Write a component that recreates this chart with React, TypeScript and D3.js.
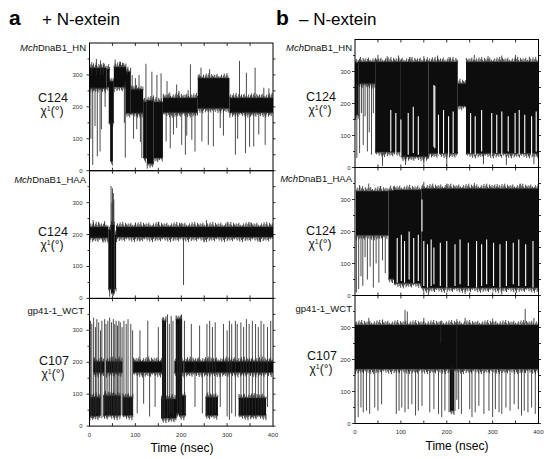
import React from "react";
import * as d3 from "d3";

type Block = [number, number, number, number];
type Spike = [number, number, number];

const X_TICKS = [0, 100, 200, 300, 400];
const Y_TICKS = [0, 100, 200, 300];
const MINOR_STEP = 50;

// ---- a, top: MchDnaB1_HN (+ N-extein) ----
const A1_BLOCKS: Block[] = [
  [0, 37, 258, 322], [37, 44, 262, 318], [42, 53, 150, 280], [45, 51, 30, 150],
  [53, 80, 262, 325], [79, 90, 180, 310], [90, 117, 180, 255], [117, 125, 40, 215],
  [125, 140, 22, 220], [140, 160, 40, 215], [160, 236, 182, 228], [236, 305, 195, 290],
  [305, 400, 182, 228],
];
const A1_SPIKES: Spike[] = [
  [3, 100, 262], [5, 300, 340], [7, 18, 262], [12, 140, 262], [15, 300, 350], [17, 45, 262],
  [23, 60, 262], [24, 300, 345], [26, 130, 262], [30, 300, 338], [34, 200, 262],
  [56, 320, 348], [66, 320, 342], [72, 320, 338], [76, 150, 270], [78, 41, 280],
  [82, 300, 320], [93, 250, 300], [96, 100, 185], [100, 250, 290], [103, 130, 185],
  [108, 250, 300], [111, 90, 185], [114, 40, 185], [123, 215, 335], [136, 215, 310],
  [147, 215, 300], [156, 215, 305], [167, 92, 185], [169, 228, 281], [176, 70, 185],
  [175, 228, 245], [183, 113, 185], [190, 134, 185], [190, 228, 270], [195, 228, 250],
  [201, 81, 185], [209, 50, 185], [212, 110, 185], [215, 228, 252], [220, 228, 333],
  [223, 97, 185], [230, 60, 185], [240, 290, 297], [243, 290, 323], [245, 92, 200],
  [259, 81, 200], [262, 290, 318], [270, 76, 200], [285, 134, 200], [292, 110, 200],
  [318, 50, 185], [323, 100, 185], [327, 228, 344], [340, 55, 185], [342, 228, 307],
  [349, 75, 185], [358, 76, 185], [361, 228, 323], [369, 113, 185], [380, 228, 260],
  [383, 81, 185], [391, 228, 258],
];

// ---- a, middle: MchDnaB1_HAA ----
const A2_BLOCKS: Block[] = [
  [0, 41, 190, 224], [41, 47, 30, 215], [47, 55, 18, 230], [55, 58, 30, 200], [58, 400, 192, 224],
];
const A2_SPIKES: Spike[] = [
  [47, 230, 352], [49, 230, 300], [50, 230, 345], [52, 230, 330], [53, 230, 310],
  [44, 5, 30], [52, 8, 30], [8, 226, 245], [20, 226, 240], [33, 226, 242],
  [100, 226, 238], [150, 226, 240], [200, 226, 237], [255, 226, 245], [300, 226, 240],
  [350, 226, 238], [30, 175, 190], [110, 178, 190], [250, 176, 190], [370, 178, 190],
  [205, 42, 190],
];

// ---- a, bottom: gp41-1_WCT ----
const A3_BLOCKS: Block[] = [
  [0, 24, 32, 90], [30, 68, 34, 95], [72, 95, 34, 90], [8, 32, 168, 202],
  [36, 60, 168, 202], [60, 72, 168, 202], [95, 158, 168, 202], [156, 190, 25, 85],
  [158, 167, 40, 330], [185, 205, 168, 202], [188, 202, 40, 335], [195, 210, 34, 95],
  [205, 400, 168, 202], [253, 280, 34, 90], [325, 385, 34, 88],
];
const A3_SPIKES: Spike[] = [
  [2, 30, 330], [5, 25, 320], [9, 35, 340], [13, 30, 310], [16, 40, 335], [20, 30, 325],
  [24, 35, 300], [27, 25, 330], [33, 30, 335], [36, 40, 320], [40, 30, 330], [44, 35, 340],
  [48, 30, 325], [52, 40, 335], [55, 30, 320], [58, 35, 330], [61, 30, 315], [64, 40, 330],
  [67, 30, 325], [71, 35, 310], [75, 30, 330], [80, 40, 320], [84, 30, 335], [90, 35, 320],
  [94, 40, 300], [104, 40, 170], [110, 200, 300], [118, 70, 170], [127, 200, 330],
  [131, 30, 170], [143, 60, 170], [150, 200, 310], [160, 20, 340], [163, 30, 330],
  [170, 25, 350], [174, 30, 320], [178, 40, 345], [182, 30, 330], [192, 30, 320],
  [197, 40, 340], [200, 30, 350], [207, 40, 330], [222, 200, 320], [230, 60, 200],
  [240, 200, 315], [246, 40, 170], [256, 30, 320], [262, 40, 330], [268, 30, 310],
  [274, 40, 325], [285, 60, 170], [292, 200, 320], [300, 30, 300], [305, 20, 330],
  [310, 40, 320], [318, 30, 330], [322, 200, 320], [330, 30, 325], [336, 40, 310],
  [342, 30, 335], [348, 40, 320], [355, 30, 330], [362, 30, 320], [368, 40, 310],
  [374, 30, 330], [380, 40, 320], [388, 60, 310], [395, 200, 330],
];

// ---- b, top: MchDnaB1_HN (– N-extein) ----
const B1_BLOCKS: Block[] = [
  [0, 7, 165, 328], [7, 44, 262, 330], [44, 100, 48, 330], [100, 160, 34, 330],
  [160, 224, 44, 330], [224, 242, 192, 262], [242, 400, 44, 330],
];
const B1_SPIKES: Spike[] = [
  [1, 150, 262], [4, 30, 262], [8, 160, 262], [10, 45, 262], [14, 170, 262], [18, 70, 262],
  [22, 160, 262], [27, 50, 262], [31, 110, 262], [36, 40, 262], [40, 170, 262],
  [50, 330, 352], [70, 330, 348], [95, 330, 350], [120, 330, 345], [150, 330, 348],
  [180, 330, 350], [205, 330, 345], [260, 330, 352], [290, 330, 348], [320, 330, 350],
  [350, 330, 352], [380, 330, 346], [60, 5, 45], [110, 8, 40], [150, 10, 40],
  [200, 5, 40], [280, 10, 40], [330, 8, 40], [390, 10, 40],
];
const B1_GAPS: Spike[] = [
  [78, 50, 180], [89, 45, 170], [100, 35, 150], [116, 40, 170], [127, 45, 190],
  [138, 40, 160], [172, 65, 258], [174, 60, 255], [182, 40, 165], [193, 45, 180],
  [204, 40, 160], [214, 45, 175], [252, 45, 170], [262, 40, 160], [276, 50, 180],
  [298, 40, 170], [309, 45, 165], [320, 40, 175], [334, 50, 160], [349, 45, 170],
  [358, 40, 180], [370, 45, 165], [385, 40, 160], [395, 50, 175],
];

// ---- b, middle: MchDnaB1_HAA ----
const B2_BLOCKS: Block[] = [
  [2, 73, 188, 326], [73, 85, 52, 328], [85, 145, 38, 330], [145, 400, 24, 334],
];
const B2_SPIKES: Spike[] = [
  [10, 330, 345], [30, 330, 350], [55, 330, 342], [3, 10, 185], [8, 20, 185], [13, 60, 185],
  [17, 30, 185], [22, 120, 185], [27, 50, 185], [33, 90, 185], [40, 25, 185], [46, 100, 185],
  [52, 40, 185], [60, 110, 185], [66, 70, 185], [160, 2, 25], [240, 5, 25], [320, 3, 25],
  [150, 335, 355], [200, 335, 350], [260, 335, 352], [310, 335, 348], [360, 335, 350],
];
const B2_GAPS: Spike[] = [
  [92, 40, 180], [101, 45, 190], [108, 40, 170], [118, 50, 200], [128, 40, 180],
  [138, 45, 190], [146, 200, 300], [150, 30, 170], [158, 25, 160], [166, 30, 175],
  [172, 35, 150], [186, 30, 165], [200, 25, 170], [218, 30, 160], [229, 35, 175],
  [247, 30, 165], [265, 25, 170], [276, 30, 160], [287, 35, 175], [302, 30, 165],
  [316, 25, 160], [330, 30, 170], [345, 35, 165], [357, 30, 175], [372, 30, 160],
  [388, 25, 170],
];

// ---- b, bottom: gp41-1_WCT ----
const B3_BLOCKS: Block[] = [[0, 400, 170, 308], [207, 216, 40, 168]];
const B3_SPIKES: Spike[] = [
  [30, 312, 330], [60, 312, 325], [109, 312, 355], [114, 312, 350], [150, 312, 330],
  [187, 252, 321], [222, 74, 326], [240, 312, 330], [300, 312, 328], [371, 312, 358],
  [390, 312, 330], [7, 20, 168], [13, 50, 168], [18, 35, 168], [25, 40, 168], [32, 30, 168],
  [43, 50, 168], [50, 40, 168], [58, 60, 168], [90, 30, 168], [96, 40, 168], [102, 50, 168],
  [109, 35, 168], [116, 45, 168], [124, 60, 168], [132, 25, 168], [138, 40, 168],
  [146, 55, 168], [163, 35, 168], [172, 45, 168], [182, 30, 168], [189, 20, 168],
  [196, 40, 168], [205, 35, 168], [212, 50, 168], [218, 40, 168], [226, 45, 168],
  [232, 30, 168], [250, 45, 168], [255, 20, 168], [262, 35, 168], [270, 55, 168],
  [281, 30, 168], [292, 40, 168], [300, 20, 168], [306, 45, 168], [314, 35, 168],
  [320, 30, 168], [329, 50, 168], [338, 40, 168], [347, 60, 168], [356, 45, 168],
  [363, 25, 168], [369, 40, 168], [377, 35, 168], [385, 50, 168], [393, 30, 168],
];

const FONT = "Liberation Sans, Arial, Helvetica, sans-serif";
// visual fuzz drawn along band edges (pixels) – a line-style texture, not data
const FUZZ_PX = [1.5, 3.5, 0.5, 2.5, 4.5, 1, 3, 5, 2, 0.5, 4, 2.5, 1.5, 3.5, 0.8, 2.8, 4.2, 1.2, 2.2, 0.6];

interface PanelProps {
  id: string;
  x: number;
  y: number;
  w: number;
  h: number;
  blocks: Block[];
  spikes: Spike[];
  gaps?: Spike[];
  xLabels: boolean;
  labelGap: number;
}

function fuzzPath(x0: number, x1: number, yTop: number, yBot: number, seed: number): string {
  let d = "";
  let k = seed;
  for (let px = x0 + 0.4; px < x1; px += 0.9) {
    const up = FUZZ_PX[k % FUZZ_PX.length];
    const dn = FUZZ_PX[(k + 7) % FUZZ_PX.length];
    d += `M${px.toFixed(2)},${(yTop - up).toFixed(2)}V${(yTop + 1).toFixed(2)}`;
    d += `M${px.toFixed(2)},${(yBot - 1).toFixed(2)}V${(yBot + dn).toFixed(2)}`;
    k++;
  }
  return d;
}

function Panel({ id, x, y, w, h, blocks, spikes, gaps = [], xLabels, labelGap }: PanelProps) {
  const xs = d3.scaleLinear().domain([0, 400]).range([x, x + w]);
  const ys = d3.scaleLinear().domain([0, 400]).range([y + h, y]);
  const minor = d3.range(0, 401, MINOR_STEP);
  return (
    <g>
      <defs>
        <clipPath id={id}>
          <rect x={x} y={y} width={w} height={h} />
        </clipPath>
      </defs>
      <g clipPath={`url(#${id})`}>
        {blocks.map((b, i) => (
          <rect key={"b" + i} x={xs(b[0])} width={xs(b[1]) - xs(b[0])} y={ys(b[3])} height={ys(b[2]) - ys(b[3])} fill="#0d0d0d" />
        ))}
        {blocks.map((b, i) => (
          <path key={"f" + i} d={fuzzPath(xs(b[0]), xs(b[1]), ys(b[3]), ys(b[2]), i * 5)} stroke="#1a1a1a" strokeWidth={0.8} fill="none" />
        ))}
        {gaps.map((s, i) => (
          <line key={"g" + i} x1={xs(s[0])} x2={xs(s[0])} y1={ys(s[1])} y2={ys(s[2])} stroke="#fff" strokeWidth={1.1} />
        ))}
        {spikes.map((s, i) => (
          <line key={"s" + i} x1={xs(s[0])} x2={xs(s[0])} y1={ys(s[1])} y2={ys(s[2])} stroke="#2a2a2a" strokeWidth={0.85} />
        ))}
      </g>
      <rect x={x} y={y} width={w} height={h} fill="none" stroke="#000" strokeWidth={1} />
      {minor.filter((t) => t > 0 && t < 400).map((t) => (
        <g key={"xt" + t}>
          <line x1={xs(t)} x2={xs(t)} y1={y + h} y2={y + h - 3} stroke="#000" strokeWidth={0.8} />
          <line x1={xs(t)} x2={xs(t)} y1={y} y2={y + 3} stroke="#000" strokeWidth={0.8} />
        </g>
      ))}
      {minor.filter((v) => v < 400).map((v) => (
        <g key={"yt" + v}>
          <line x1={x} x2={x - (v % 100 === 0 ? 3 : 2)} y1={ys(v)} y2={ys(v)} stroke="#000" strokeWidth={0.8} />
          <line x1={x + w} x2={x + w + 2.5} y1={ys(v)} y2={ys(v)} stroke="#000" strokeWidth={0.8} />
        </g>
      ))}
      {Y_TICKS.map((v) => (
        <text key={"yl" + v} x={x - labelGap} y={ys(v) + 2} fontSize={6} fill="#333" textAnchor="end" fontFamily={FONT}>
          {v}
        </text>
      ))}
      {xLabels &&
        X_TICKS.map((t) => (
          <text key={"xl" + t} x={xs(t)} y={y + h + 10.5} fontSize={6.2} fill="#333" textAnchor="middle" fontFamily={FONT}>
            {t}
          </text>
        ))}
    </g>
  );
}

function AxisLabel({ x, y, residue }: { x: number; y: number; residue: string }) {
  return (
    <text fontFamily={FONT} textAnchor="middle" fill="#111">
      <tspan x={x} y={y} fontSize={12.5}>{residue}</tspan>
      <tspan x={x - 1} y={y + 12.5} fontSize={12}>χ</tspan>
      <tspan fontSize={7} dy={-4}>1</tspan>
      <tspan fontSize={12} dy={4}>(°)</tspan>
    </text>
  );
}

function Name({ x, y, italic, rest }: { x: number; y: number; italic: string; rest: string }) {
  return (
    <text x={x} y={y} fontSize={9.5} fontFamily={FONT} textAnchor="end" fill="#111">
      {italic && <tspan fontStyle="italic">{italic}</tspan>}
      {rest}
    </text>
  );
}

export default function App() {
  const L = { x: 89.5, w: 183.5, top: 43, h: 127.7 };
  const R = { x: 355, w: 183.5, top: 39.5, h: 128 };
  return (
    <svg width={550} height={459} style={{ position: "absolute", left: 0, top: 0, background: "#fff" }}>
      <rect width={550} height={459} fill="#fff" />
      <text x={9} y={25} fontSize={21} fontWeight="bold" fontFamily={FONT}>a</text>
      <text x={42} y={25} fontSize={17} fontFamily={FONT}>+ N-extein</text>
      <text x={276} y={25} fontSize={21} fontWeight="bold" fontFamily={FONT}>b</text>
      <text x={299} y={25} fontSize={17} fontFamily={FONT}>– N-extein</text>

      <Panel id="a1" x={L.x} y={L.top} w={L.w} h={L.h} blocks={A1_BLOCKS} spikes={A1_SPIKES} xLabels={false} labelGap={7} />
      <Panel id="a2" x={L.x} y={L.top + L.h} w={L.w} h={L.h} blocks={A2_BLOCKS} spikes={A2_SPIKES} xLabels={false} labelGap={7} />
      <Panel id="a3" x={L.x} y={L.top + 2 * L.h} w={L.w} h={L.h} blocks={A3_BLOCKS} spikes={A3_SPIKES} xLabels={true} labelGap={7} />
      <Panel id="b1" x={R.x} y={R.top} w={R.w} h={R.h} blocks={B1_BLOCKS} spikes={B1_SPIKES} gaps={B1_GAPS} xLabels={false} labelGap={4.5} />
      <Panel id="b2" x={R.x} y={R.top + R.h} w={R.w} h={R.h} blocks={B2_BLOCKS} spikes={B2_SPIKES} gaps={B2_GAPS} xLabels={false} labelGap={4.5} />
      <Panel id="b3" x={R.x} y={R.top + 2 * R.h} w={R.w} h={R.h} blocks={B3_BLOCKS} spikes={B3_SPIKES} xLabels={true} labelGap={4.5} />

      <Name x={86} y={51} italic="Mch" rest="DnaB1_HN" />
      <Name x={86} y={182.5} italic="Mch" rest="DnaB1_HAA" />
      <Name x={84} y={314} italic="" rest="gp41-1_WCT" />
      <Name x={352} y={51} italic="Mch" rest="DnaB1_HN" />
      <Name x={352} y={181.5} italic="Mch" rest="DnaB1_HAA" />
      <Name x={352} y={312} italic="" rest="gp41-1_WCT" />

      <AxisLabel x={53} y={102} residue="C124" />
      <AxisLabel x={53} y={236} residue="C124" />
      <AxisLabel x={54} y={365} residue="C107" />
      <AxisLabel x={321} y={101} residue="C124" />
      <AxisLabel x={321} y={235} residue="C124" />
      <AxisLabel x={322} y={360} residue="C107" />

      <text x={182} y={452} fontSize={12} textAnchor="middle" fontFamily={FONT}>Time (nsec)</text>
      <text x={457} y={450} fontSize={12} textAnchor="middle" fontFamily={FONT}>Time (nsec)</text>
    </svg>
  );
}
